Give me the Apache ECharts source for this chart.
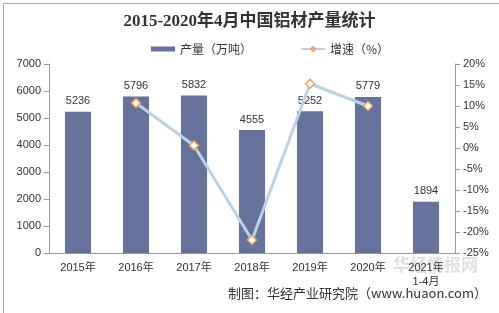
<!DOCTYPE html>
<html>
<head>
<meta charset="utf-8">
<script src="https://cdn.jsdelivr.net/npm/echarts@6/dist/echarts.min.js"></script>
<style>
  html, body { margin: 0; padding: 0; background: #fff; }
  #chart { width: 499px; height: 313px; }
</style>
</head>
<body>
<div id="chart"></div>
<script>
const years = ['2015年', '2016年', '2017年', '2018年', '2019年', '2020年', '2021年\n1-4月']
const output = [5236, 5796, 5832, 4555, 5252, 5779, 1894]
const growth = [null, 10.7, 0.6, -21.9, 15.3, 10.0, null]

const chart = echarts.init(document.getElementById('chart'))

const axisColor = '#9a9a9a'
const labelColor = '#333'

const option = {
  backgroundColor: '#fff',
  animation: false,
  title: {
    text: '2015-2020年4月中国铝材产量统计',
    left: 'center',
    top: 8,
    textStyle: {
      fontFamily: '"Liberation Serif", "Noto Sans CJK SC", serif',
      fontSize: 17,
      fontWeight: 'bold',
      color: '#333'
    }
  },
  legend: {
    top: 38,
    left: 146,
    itemGap: 48,
    textStyle: { fontSize: 12, color: '#333', fontFamily: '"Noto Sans CJK SC", sans-serif' },
    data: [
      { name: '产量（万吨）', icon: 'rect', itemStyle: { color: '#66719c' } },
      { name: '增速（%）' }
    ],
    itemWidth: 24,
    itemHeight: 5
  },
  grid: {
    left: 49,
    right: 44,
    top: 64,
    bottom: 60
  },
  xAxis: {
    type: 'category',
    data: years,
    axisLine: { lineStyle: { color: axisColor } },
    axisTick: { lineStyle: { color: axisColor } },
    axisLabel: {
      color: labelColor,
      fontSize: 11,
      lineHeight: 14,
      interval: 0,
      fontFamily: 'Arial, "Liberation Sans", "Noto Sans CJK SC", sans-serif'
    }
  },
  yAxis: [
    {
      type: 'value',
      min: 0,
      max: 7000,
      interval: 1000,
      axisLine: { show: true, lineStyle: { color: axisColor } },
      axisTick: { show: true, lineStyle: { color: axisColor } },
      splitLine: { show: false },
      axisLabel: {
        color: labelColor,
        fontSize: 11,
        formatter: v => String(v),
        fontFamily: 'Arial, "Liberation Sans", sans-serif'
      }
    },
    {
      type: 'value',
      min: -25,
      max: 20,
      interval: 5,
      position: 'right',
      axisLine: { show: true, lineStyle: { color: axisColor } },
      axisTick: { show: true, lineStyle: { color: axisColor } },
      splitLine: { show: false },
      axisLabel: {
        color: labelColor,
        fontSize: 11,
        formatter: '{value}%',
        fontFamily: 'Arial, "Liberation Sans", sans-serif'
      }
    }
  ],
  series: [
    {
      name: '产量（万吨）',
      type: 'bar',
      data: output,
      barWidth: '45%',
      itemStyle: { color: '#66719c' },
      label: {
        show: true,
        position: 'top',
        color: labelColor,
        fontSize: 11,
        fontFamily: 'Arial, "Liberation Sans", sans-serif'
      }
    },
    {
      name: '增速（%）',
      type: 'line',
      yAxisIndex: 1,
      data: growth,
      symbol: 'diamond',
      symbolSize: 9,
      lineStyle: { color: '#b9d3e6', width: 3 },
      itemStyle: { color: '#fff', borderColor: '#f0a25a', borderWidth: 1.5 },
      z: 3
    }
  ],
  graphic: [
    {
      type: 'rect',
      left: 1,
      top: 1,
      shape: { width: 496, height: 310 },
      style: { fill: 'none', stroke: '#aaa', lineWidth: 1 },
      silent: true
    },
    {
      type: 'text',
      left: 393,
      top: 256,
      style: {
        text: '华经情报网',
        fill: 'rgba(150,150,150,0.3)',
        fontSize: 17,
        fontWeight: 'bold',
        fontFamily: '"Noto Sans CJK SC", sans-serif'
      },
      silent: true
    },
    {
      type: 'text',
      right: 12,
      top: 287,
      style: {
        text: '制图：华经产业研究院（www.huaon.com）',
        fill: '#333',
        fontSize: 13,
        fontFamily: '"Noto Sans CJK SC", sans-serif'
      }
    }
  ]
}

chart.setOption(option)
</script>
</body>
</html>
